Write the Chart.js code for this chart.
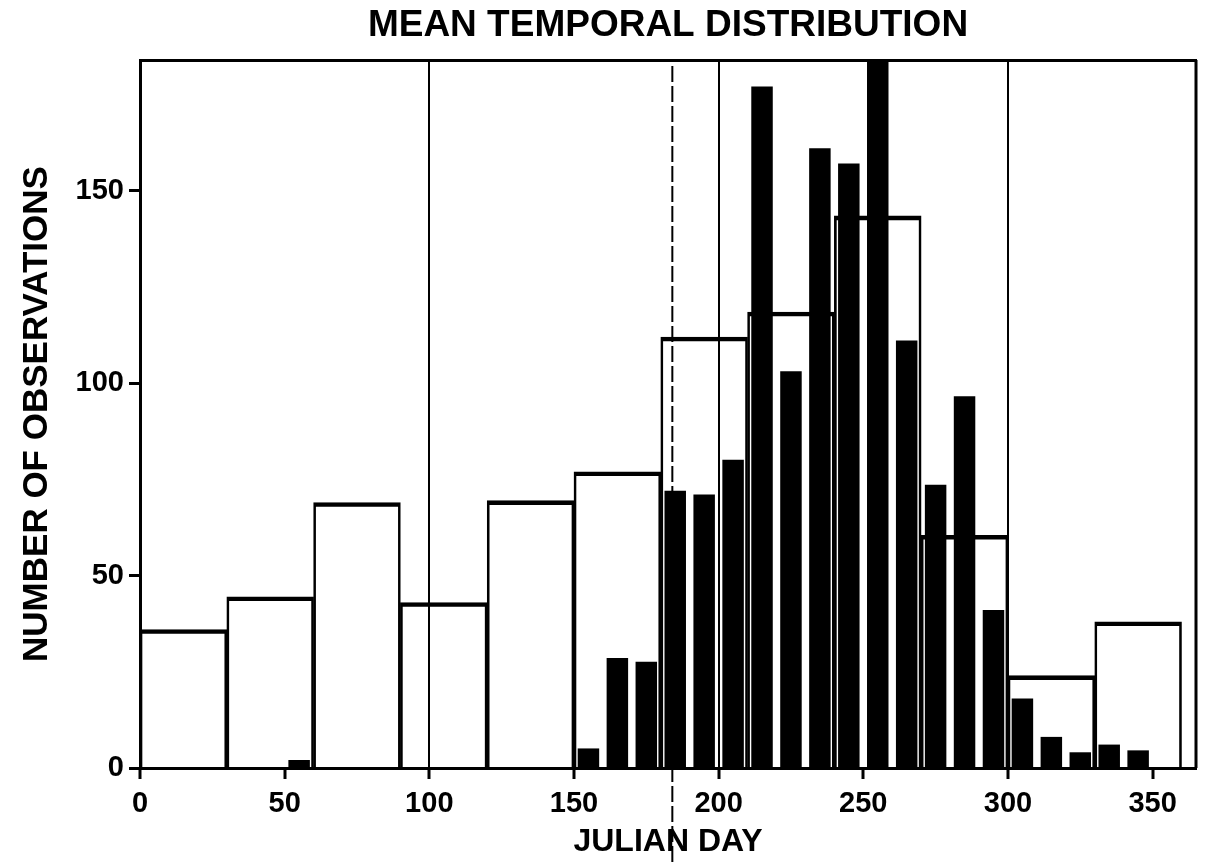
<!DOCTYPE html>
<html>
<head>
<meta charset="utf-8">
<script src="https://cdn.jsdelivr.net/npm/chart.js@4.4.1/dist/chart.umd.min.js"></script>
<style>
  body { margin: 0; background: #fff; }
  #wrap { width: 1206px; height: 866px; }
</style>
</head>
<body>
<div id="wrap"><canvas id="container"></canvas></div>
<script>
// 30 day bins (open boxes)
var monthDays = [15, 45, 75, 105, 135, 165, 195, 225, 255, 285, 315, 345];
var monthCounts = [36, 44.5, 69, 43, 69.5, 77, 112, 118.5, 143.5, 60.5, 24, 38];

// 10 day bins (black bars)
var tenDays = [55, 155, 165, 175, 185, 195, 205, 215, 225, 235, 245, 255, 265, 275, 285, 295, 305, 315, 325, 335, 345];
var tenCounts = [2, 5, 28.5, 27.5, 72, 71, 80, 177, 103, 161, 157, 200, 111, 73.5, 96.5, 41, 18, 8, 4, 6, 4.5];

var xTickValues = [0, 50, 100, 150, 200, 250, 300, 350];
var yTickValues = [0, 50, 100, 150];
var gridDays = [100, 200, 300];
var splitDay = 184;

var fontFam = '"Liberation Sans", Arial, Helvetica, sans-serif';

// bar width in pixels for a span of days, taken from the x scale
function dayWidth(chart, days) {
  const s = chart.scales.x;
  if (!s) return undefined;
  const w = Math.abs(s.getPixelForValue(days) - s.getPixelForValue(0));
  return (isFinite(w) && w > 0) ? w : undefined;
}

var framePlugin = {
  id: 'framePlugin',
  afterDatasetsDraw(chart) {
    const ctx = chart.ctx;
    const a = chart.chartArea;
    ctx.save();
    ctx.strokeStyle = '#000';
    ctx.lineWidth = 3;
    ctx.beginPath();
    ctx.moveTo(a.right, a.top);
    ctx.lineTo(a.right, a.bottom);
    ctx.stroke();
    // dashed day line
    const x = chart.scales.x.getPixelForValue(splitDay);
    ctx.lineWidth = 2;
    ctx.setLineDash([16, 4]);
    ctx.beginPath();
    ctx.moveTo(x, a.top + 6);
    ctx.lineTo(x, chart.height);
    ctx.stroke();
    ctx.restore();
  }
};

new Chart('container', {
  type: 'bar',
  data: {
    datasets: [
      {
        data: tenDays.map((d, i) => ({ x: d, y: tenCounts[i] })),
        xAxisID: 'x',
        backgroundColor: '#000',
        borderWidth: 0,
        grouped: false,
        barThickness: c => dayWidth(c.chart, 7.2),
        order: 0
      },
      {
        data: monthDays.map((d, i) => ({ x: d, y: monthCounts[i] })),
        xAxisID: 'x',
        backgroundColor: 'rgba(255,255,255,0)',
        borderColor: '#000',
        borderWidth: { top: 4, left: 2, right: 2, bottom: 0 },
        borderSkipped: false,
        grouped: false,
        barThickness: c => dayWidth(c.chart, 30),
        order: 1
      }
    ]
  },
  options: {
    responsive: true,
    maintainAspectRatio: false,
    animation: false,
    layout: { padding: { left: 0, right: 10, top: 0, bottom: 0 } },
    plugins: {
      legend: { display: false },
      tooltip: { enabled: false }
    },
    scales: {
      x: {
        type: 'linear',
        min: 0,
        max: 365,
        offset: false,
        afterBuildTicks: s => { s.ticks = xTickValues.map(v => ({ value: v })); },
        afterFit: s => { s.height = 98; },
        ticks: {
          color: '#000',
          padding: 8,
          maxRotation: 0,
          font: { family: fontFam, size: 29, weight: 'bold' }
        },
        grid: {
          offset: false,
          drawOnChartArea: true,
          color: c => (c.tick && gridDays.indexOf(c.tick.value) >= 0) ? '#000' : 'rgba(0,0,0,0)',
          lineWidth: 2,
          tickColor: '#000',
          tickLength: 11,
          tickWidth: 3
        },
        border: { display: true, color: '#000', width: 3 },
        title: {
          display: true,
          text: 'JULIAN DAY',
          color: '#000',
          font: { family: fontFam, size: 32, weight: 'bold', lineHeight: 1.2 },
          padding: { top: 0, bottom: 5 }
        }
      },
      xTop: {
        type: 'linear',
        position: 'top',
        axis: 'x',
        min: 0,
        max: 365,
        offset: false,
        afterBuildTicks: s => { s.ticks = xTickValues.map(v => ({ value: v })); },
        afterFit: s => { s.height = 60; },
        ticks: { display: false },
        grid: { drawOnChartArea: false, drawTicks: false },
        border: { display: true, color: '#000', width: 3 },
        title: {
          display: true,
          text: 'MEAN TEMPORAL DISTRIBUTION',
          color: '#000',
          font: { family: fontFam, size: 37, weight: 'bold', lineHeight: 1.2 },
          padding: { top: 4, bottom: 0 }
        }
      },
      y: {
        type: 'linear',
        min: 0,
        max: 184,
        afterBuildTicks: s => { s.ticks = yTickValues.map(v => ({ value: v })); },
        afterFit: s => { s.width = 140; },
        ticks: {
          color: '#000',
          padding: 5,
          font: { family: fontFam, size: 29, weight: 'bold' }
        },
        grid: {
          drawOnChartArea: false,
          tickColor: '#000',
          tickLength: 11,
          tickWidth: 3
        },
        border: { display: true, color: '#000', width: 3 },
        title: {
          display: true,
          text: 'NUMBER OF OBSERVATIONS',
          color: '#000',
          font: { family: fontFam, size: 35, weight: 'bold', lineHeight: 1.2 },
          padding: { top: 16, bottom: 0 }
        }
      }
    }
  },
  plugins: [framePlugin]
});
</script>
</body>
</html>
